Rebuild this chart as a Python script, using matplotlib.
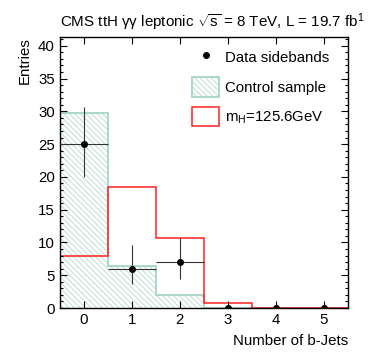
import matplotlib
matplotlib.use('Agg')
import matplotlib.pyplot as plt
from matplotlib.lines import Line2D
from matplotlib.patches import Patch
import numpy as np

plt.rcParams['font.family'] = ['Liberation Sans', 'DejaVu Sans']
plt.rcParams['hatch.linewidth'] = 0.5
plt.rcParams['mathtext.fontset'] = 'custom'
plt.rcParams['mathtext.rm'] = 'Liberation Sans'
plt.rcParams['mathtext.it'] = 'Liberation Sans'

# data
n_bjets = [0, 1, 2, 3, 4, 5]
bin_edges = [-0.5, 0.5, 1.5, 2.5, 3.5, 4.5, 5.5]
control_sample = [29.7, 6.4, 2.0, 0, 0, 0]
signal_mh = [8.0, 18.4, 10.7, 0.7, 0, 0]
data_sidebands = [25, 6, 7, 0, 0, 0]
data_err_lo = [5.0, 2.4, 2.6, 0, 0, 0]
data_err_hi = [5.7, 3.6, 3.7, 0, 0, 0]

teal = '#a6d4c4'
red = '#ff2020'
hatch = '\\\\\\\\\\\\'

fig = plt.figure(figsize=(3.74, 3.63), dpi=100)
ax = fig.add_axes([0.160, 0.1515, 0.770, 0.7457])

# control sample: hatched fill + outline
ax.bar(n_bjets, control_sample, width=1.0, facecolor='none', edgecolor=teal,
       hatch=hatch, linewidth=0)
ax.stairs(control_sample, bin_edges, color=teal, linewidth=1.3)

# signal outline
ax.stairs(signal_mh, bin_edges, color=red, linewidth=1.1)

# data points
ax.errorbar(n_bjets, data_sidebands, yerr=[data_err_lo, data_err_hi], xerr=0.5,
            fmt='o', color='black', ecolor='#333333', elinewidth=0.8,
            markersize=4, capsize=0, zorder=5)

ax.set_xlim(-0.5, 5.5)
ax.set_ylim(0, 41.3)
ax.set_xticks(n_bjets)
ax.set_yticks([0, 5, 10, 15, 20, 25, 30, 35, 40])
ax.set_yticks(np.arange(0, 42, 1), minor=True)
ax.tick_params(which='both', direction='in', top=True, right=True,
               labelsize=10.8, width=0.8)
ax.tick_params(which='major', length=5)
ax.tick_params(which='minor', length=2.5)
ax.tick_params(axis='x', which='minor', bottom=False, top=False)
for s in ax.spines.values():
    s.set_linewidth(1.0)

handles = [
    Line2D([], [], marker='o', color='black', linestyle='none', markersize=4),
    Patch(facecolor='none', edgecolor=teal, hatch=hatch, linewidth=1.3),
    Patch(facecolor='white', edgecolor=red, linewidth=1.1),
]
labels = ['Data sidebands', 'Control sample', r'm$_{\mathrm{H}}$=125.6GeV']
ax.legend(handles, labels, loc='upper left', bbox_to_anchor=(0.458, 0.963),
          frameon=False, fontsize=10.8, handlelength=1.85, handleheight=1.65,
          labelspacing=0.66, handletextpad=0.34, borderpad=0, borderaxespad=0)

fig.text(60 / 374, 1 - 27 / 363,
         r'CMS ttH $\gamma\gamma$ leptonic $\sqrt{\mathrm{s}}$ = 8 TeV, L = 19.7 fb$^{1}$',
         ha='left', va='baseline', fontsize=10.9)
fig.text(25 / 374, 1 - 37 / 363, 'Entries', rotation=90, ha='center', va='top',
         fontsize=10.8)
fig.text(348 / 374, 1 - 341 / 363, 'Number of b-Jets', ha='right', va='center',
         fontsize=10.8)

fig.savefig('out.png', dpi=100)
